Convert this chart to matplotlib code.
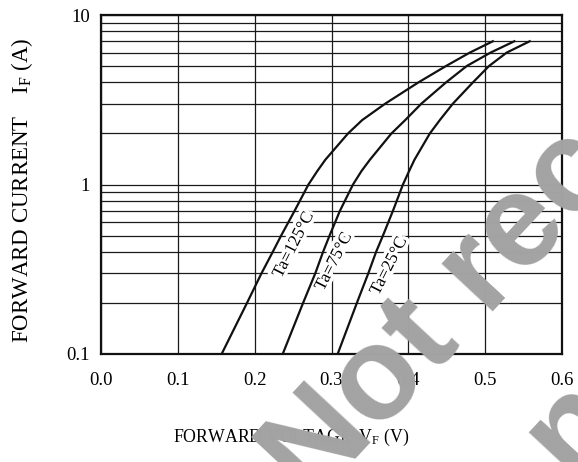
import numpy as np
import matplotlib
matplotlib.use("Agg")
import matplotlib.pyplot as plt
import matplotlib.patheffects as pe

# forward voltage (V) vs forward current (A)
i_f = [0.1, 0.2, 0.3, 0.4, 0.5, 0.7, 1.0, 1.2, 1.4, 2.0, 2.4, 3.0, 4.0, 5.0, 6.0, 7.0]
v_125 = [0.157, 0.190, 0.209, 0.2235, 0.2345, 0.252, 0.270, 0.2815, 0.292, 0.3215, 0.340, 0.370, 0.413, 0.449, 0.480, 0.510]
v_75 = [0.2365, 0.263, 0.279, 0.289, 0.2975, 0.311, 0.328, 0.339, 0.350, 0.378, 0.396, 0.417, 0.449, 0.476, 0.507, 0.538]
v_25 = [0.308, 0.333, 0.348, 0.358, 0.367, 0.380, 0.393, 0.401, 0.408, 0.428, 0.441, 0.458, 0.484, 0.505, 0.528, 0.558]

labels = ["Ta=125°C", "Ta=75°C", "Ta=25°C"]
label_pos = [(0.251, 0.44), (0.3033, 0.35), (0.375, 0.33)]

x_ticks = [0.0, 0.1, 0.2, 0.3, 0.4, 0.5, 0.6]
y_ticks = [0.1, 1, 10]

plt.rcParams['font.family'] = ['Liberation Serif', 'DejaVu Serif']
plt.rcParams['mathtext.fontset'] = 'custom'
plt.rcParams['mathtext.rm'] = 'Liberation Serif'
plt.rcParams['mathtext.it'] = 'Liberation Serif:italic'

fig = plt.figure(figsize=(5.78, 4.62), dpi=100)
ax = fig.add_axes([101 / 578, 108 / 462, 461 / 578, 339 / 462])
ax.set_axisbelow(True)

for v in [v_125, v_75, v_25]:
    ax.plot(v, i_f, color='#111111', lw=1.6, zorder=4)

ax.set_yscale('log')
ax.set_xlim(0, 0.6)
ax.set_ylim(0.1, 10)
ax.set_xticks(x_ticks)
ax.set_xticklabels([f"{t:.1f}" for t in x_ticks])
ax.set_yticks(y_ticks)
ax.set_yticklabels(["0.1", "1", "10"])
ax.yaxis.set_minor_formatter(matplotlib.ticker.NullFormatter())
ax.tick_params(which='both', length=0, labelsize=13.5)
ax.tick_params(axis='x', pad=13)
ax.tick_params(axis='y', pad=8)

ax.grid(True, which='both', color='#1a1a1a', lw=0.9)
for s in ax.spines.values():
    s.set_linewidth(1.6)
    s.set_color('#111111')
    s.set_zorder(5)

for txt, (x, y) in zip(labels, label_pos):
    ax.text(x, y, txt, rotation=63, fontsize=12.5, ha='center', va='center', zorder=3,
            path_effects=[pe.withStroke(linewidth=5, foreground='white')])

fig.text(22 / 578, 1 - 190 / 462, r"FORWARD CURRENT    I$_\mathrm{F}$ (A)",
         rotation=90, fontsize=16.5, ha='center', va='center')
fig.text(291 / 578, 1 - 437 / 462, r"FORWARD VOLTAGE  V$_\mathrm{F}$ (V)",
         fontsize=12.8, ha='center', va='center')

# grey watermark across the chart
fig.text(312 / 578, 1 - 505 / 462, "Not recommended", rotation=47,
         rotation_mode='anchor', ha='left', va='baseline', fontsize=95,
         family='Liberation Sans', weight='bold', color='#a3a3a3', zorder=10)
fig.text(430 / 578, 1 - 642 / 462, "for new designs", rotation=47,
         rotation_mode='anchor', ha='left', va='baseline', fontsize=95,
         family='Liberation Sans', weight='bold', color='#a3a3a3', zorder=10)

fig.savefig("out.png", dpi=100)
